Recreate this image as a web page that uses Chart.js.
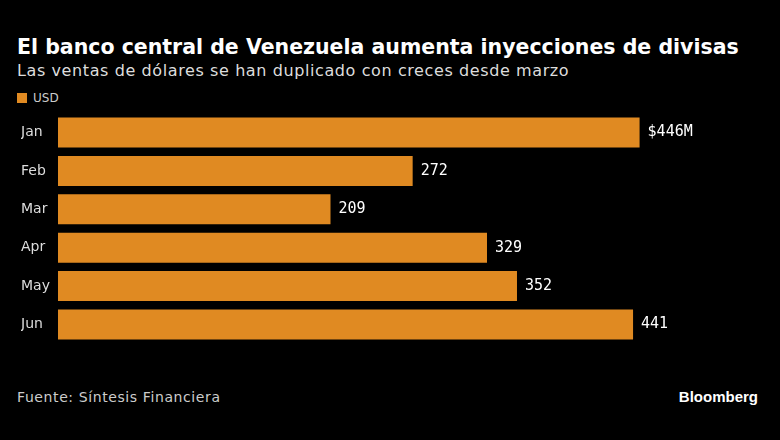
<!DOCTYPE html>
<html>
<head>
<meta charset="utf-8">
<script src="https://cdn.jsdelivr.net/npm/chart.js@4"></script>
<style>
  body { margin: 0; background: #000; width: 780px; height: 440px; overflow: hidden; font-family: "DejaVu Sans", sans-serif; color: #fff; position: relative; }
  .title { position: absolute; left: 17px; top: 35px; font-size: 20.5px; font-weight: bold; }
  .sub { position: absolute; left: 17px; top: 61px; font-size: 16px; letter-spacing: 0.6px; color: #ddd; }
  .legend { position: absolute; left: 17px; top: 91px; font-size: 12px; color: #ccc; }
  .legend span { display: inline-block; width: 10px; height: 10px; background: #E08A22; margin-right: 6px; vertical-align: -1px; }
  .src { position: absolute; left: 17px; top: 389px; font-size: 14px; letter-spacing: 0.6px; color: #ccc; }
  .logo { position: absolute; right: 22px; top: 388px; font-size: 15px; font-weight: bold; font-family: "Liberation Sans", sans-serif; }
  #c { position: absolute; left: 0; top: 105px; }
</style>
</head>
<body>
<div class="title">El banco central de Venezuela aumenta inyecciones de divisas</div>
<div class="sub">Las ventas de dólares se han duplicado con creces desde marzo</div>
<div class="legend"><span></span>USD</div>
<canvas id="c" width="780" height="247"></canvas>
<div class="src">Fuente: Síntesis Financiera</div>
<div class="logo">Bloomberg</div>
<script>
// monthly sales, millions USD
const months = ['Jan', 'Feb', 'Mar', 'Apr', 'May', 'Jun'];
const usd = [446, 272, 209, 329, 352, 441];
const valueLabels = ['$446M', '272', '209', '329', '352', '441'];

const barLabels = {
  id: 'barLabels',
  afterDatasetsDraw(chart) {
    const ctx = chart.ctx;
    ctx.save();
    ctx.fillStyle = '#fff';
    ctx.font = '15px "DejaVu Sans Mono", monospace';
    ctx.textBaseline = 'middle';
    chart.getDatasetMeta(0).data.forEach((bar, i) => {
      ctx.fillText(valueLabels[i], bar.x + 8, bar.y);
    });
    ctx.restore();
  }
};

new Chart(document.getElementById('c'), {
  type: 'bar',
  data: {
    labels: months,
    datasets: [{ data: usd, backgroundColor: '#E08A22', barPercentage: 0.78, categoryPercentage: 1 }]
  },
  options: {
    indexAxis: 'y',
    responsive: false,
    animation: false,
    layout: { padding: { left: 21, right: 70, top: 0, bottom: 0 } },
    plugins: { legend: { display: false }, tooltip: { enabled: false } },
    scales: {
      x: { min: 0, max: 500, display: false },
      y: {
        grid: { display: false },
        border: { display: false },
        ticks: { color: '#ddd', font: { size: 14, family: 'DejaVu Sans' }, crossAlign: 'far', padding: 0 }
      }
    }
  },
  plugins: [barLabels]
});
</script>
</body>
</html>
